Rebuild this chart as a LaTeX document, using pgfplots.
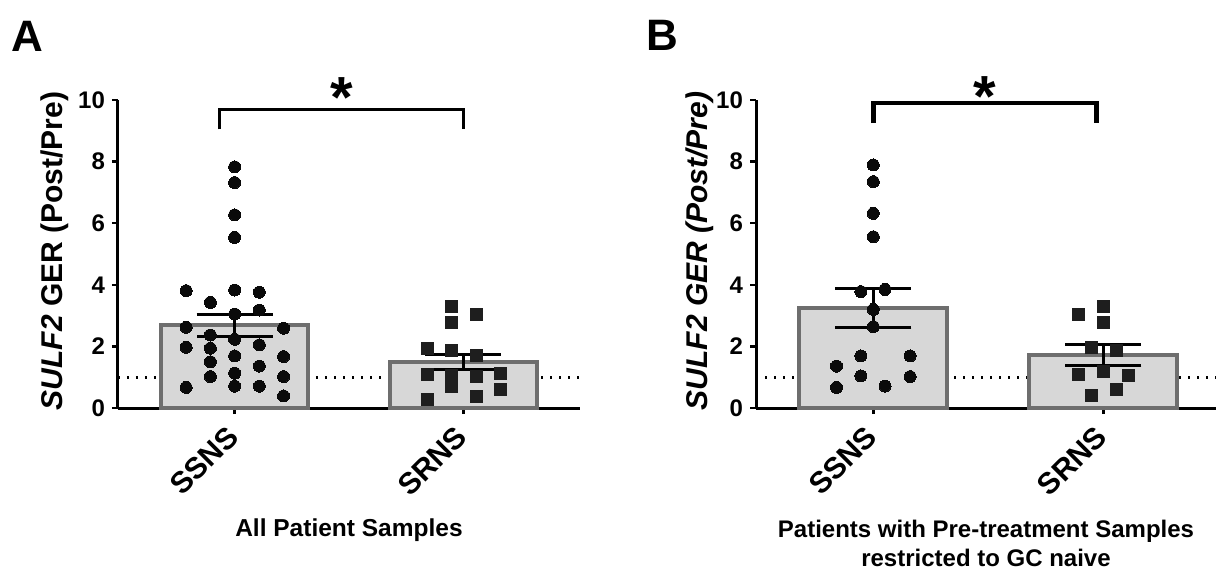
\documentclass[border=0pt]{standalone}
\usepackage{fontspec}
\setmainfont{Liberation Sans}
\usepackage{pgfplots}
\pgfplotsset{compat=1.18}

\definecolor{barfill}{HTML}{D7D7D7}
\definecolor{baredge}{HTML}{6E6E6E}
\definecolor{dotc}{HTML}{0A0A0A}
\definecolor{sqc}{HTML}{1E1E1E}

% shared look of both panels
\pgfplotsset{
  gerpanel/.style={
    scale only axis, height=154pt,
    ymin=0, ymax=10, ytick={0,2,...,10},
    xtick={0,1}, xticklabels={SSNS,SRNS},
    axis x line=bottom, axis y line=left,
    axis line style={-, line width=1.5pt},
    tick align=outside, major tick length=3pt,
    tick style={black, line width=1.2pt},
    /pgf/number format/assume math mode=true,
    yticklabel style={font=\fontsize{12}{13}\selectfont\bfseries},
    xticklabel shift=8pt,
    xticklabel style={rotate=45, anchor=east, inner sep=1pt,
      font=\fontsize{15}{16}\selectfont\bfseries},
    clip=false,
  },
  barstyle/.style={ybar, bar shift=0pt, bar width=0.645, fill=barfill,
    draw=baredge, line width=2pt},
  errstyle/.style={draw=none, mark=none, forget plot,
    error bars/.cd, y dir=both, y explicit, error mark=|,
    error bar style={draw=black, line width=1.5pt},
    error mark options={draw=black, line width=1.5pt, mark size=19pt}},
  refline/.style={black, line width=1.4pt, dash pattern=on 1.2pt off 3.3pt},
  dotstyle/.style={only marks, mark=*, mark size=3pt,
    mark options={fill=dotc, draw=dotc, line width=0pt}},
  sqstyle/.style={only marks, mark=square*, mark size=3pt,
    mark options={fill=sqc, draw=sqc, line width=0pt}},
}

\begin{document}
\begin{tikzpicture}
\useasboundingbox (0,0) rectangle (608pt,285pt);

% ---------- panel A ----------
\begin{axis}[gerpanel,
  at={(59pt,81pt)}, anchor=south west, width=231pt,
  xmin=-0.51, xmax=1.51,
  ylabel={\textit{SULF2} GER (Post/Pre)},
  ylabel style={at={(axis description cs:-0.137,0.51)}, rotate=0, anchor=center,
    font=\fontsize{15}{17}\selectfont\bfseries},
  xlabel={All Patient Samples},
  xlabel style={at={(axis description cs:0.5,0)}, anchor=north, inner sep=0pt,
    yshift=-55pt, font=\fontsize{12.25}{14}\selectfont\bfseries},
]
\addplot[refline, forget plot] coordinates {(-0.51,1) (1.51,1)};
\addplot[barstyle] coordinates {(0,2.68) (1,1.49)};
% SSNS
\addplot[dotstyle] coordinates {
 (-0.212,3.81) (-0.212,2.62) (-0.212,1.97) (-0.212,0.67)
 (-0.106,3.43) (-0.106,2.37) (-0.106,1.94) (-0.106,1.50) (-0.106,1.02)
 (0,7.83) (0,7.32) (0,6.27) (0,5.54) (0,3.83) (0,3.05) (0,2.23) (0,1.69) (0,1.13) (0,0.71)
 (0.108,3.76) (0.108,3.18) (0.108,2.05) (0.108,1.36) (0.108,0.71)
 (0.214,2.59) (0.214,1.67) (0.214,1.02) (0.214,0.39)};
% SRNS
\addplot[sqstyle] coordinates {
 (0.843,1.94) (0.843,1.09) (0.843,0.28)
 (0.949,3.29) (0.949,2.77) (0.949,1.88) (0.949,1.07) (0.949,0.69)
 (1.059,3.02) (1.059,1.70) (1.059,1.02) (1.059,0.37)
 (1.163,1.13) (1.163,0.61)};
\addplot[errstyle] coordinates {(0,2.68) +- (0,0.37) (1,1.49) +- (0,0.25)};
% significance bracket
\addplot[black, line width=1.3pt, mark=none, forget plot]
  coordinates {(-0.067,9.05) (-0.067,9.7) (1,9.7) (1,9.05)};
\node[anchor=base, inner sep=0pt, font=\fontsize{29}{30}\selectfont\bfseries]
  at (axis cs:0.469,9.42) {*};
\end{axis}

% ---------- panel B ----------
\begin{axis}[gerpanel,
  at={(378pt,81pt)}, anchor=south west, width=230pt,
  xmin=-0.51, xmax=1.49,
  ylabel={\textit{SULF2 GER (Post/Pre)}},
  ylabel style={at={(axis description cs:-0.123,0.51)}, rotate=0, anchor=center,
    font=\fontsize{15}{17}\selectfont\bfseries},
  xlabel={Patients with Pre-treatment Samples\\restricted to GC naive},
  xlabel style={at={(axis description cs:0.5,0)}, anchor=north, inner sep=0pt,
    align=center, yshift=-56pt, font=\fontsize{12}{14.5}\selectfont\bfseries},
]
\addplot[refline, forget plot] coordinates {(-0.51,1) (1.49,1)};
\addplot[barstyle] coordinates {(0,3.25) (1,1.72)};
% SSNS
\addplot[dotstyle] coordinates {
 (-0.16,1.36) (-0.16,0.67)
 (-0.054,3.78) (-0.054,1.69) (-0.054,1.04)
 (0,7.89) (0,7.35) (0,6.32) (0,5.56) (0,3.20) (0,2.64)
 (0.051,3.85) (0.051,0.71)
 (0.16,1.69) (0.16,1.02)};
% SRNS
\addplot[sqstyle] coordinates {
 (0.894,3.04) (0.894,1.09)
 (0.948,1.96) (0.948,0.39)
 (1,3.31) (1,2.78) (1,1.18)
 (1.057,1.88) (1.057,0.61)
 (1.109,1.07)};
\addplot[errstyle] coordinates {(0,3.25) +- (0,0.64) (1,1.72) +- (0,0.34)};
% significance bracket
\addplot[black, line width=2.3pt, mark=none, forget plot]
  coordinates {(0,9.25) (0,9.9) (0.971,9.9) (0.971,9.25)};
\node[anchor=base, inner sep=0pt, font=\fontsize{29}{30}\selectfont\bfseries]
  at (axis cs:0.485,9.48) {*};
\end{axis}

% panel letters
\node[inner sep=0pt, font=\fontsize{22}{24}\selectfont\bfseries] at (13.5pt,267pt) {A};
\node[inner sep=0pt, font=\fontsize{22}{24}\selectfont\bfseries] at (331pt,267.5pt) {B};
\end{tikzpicture}
\end{document}
